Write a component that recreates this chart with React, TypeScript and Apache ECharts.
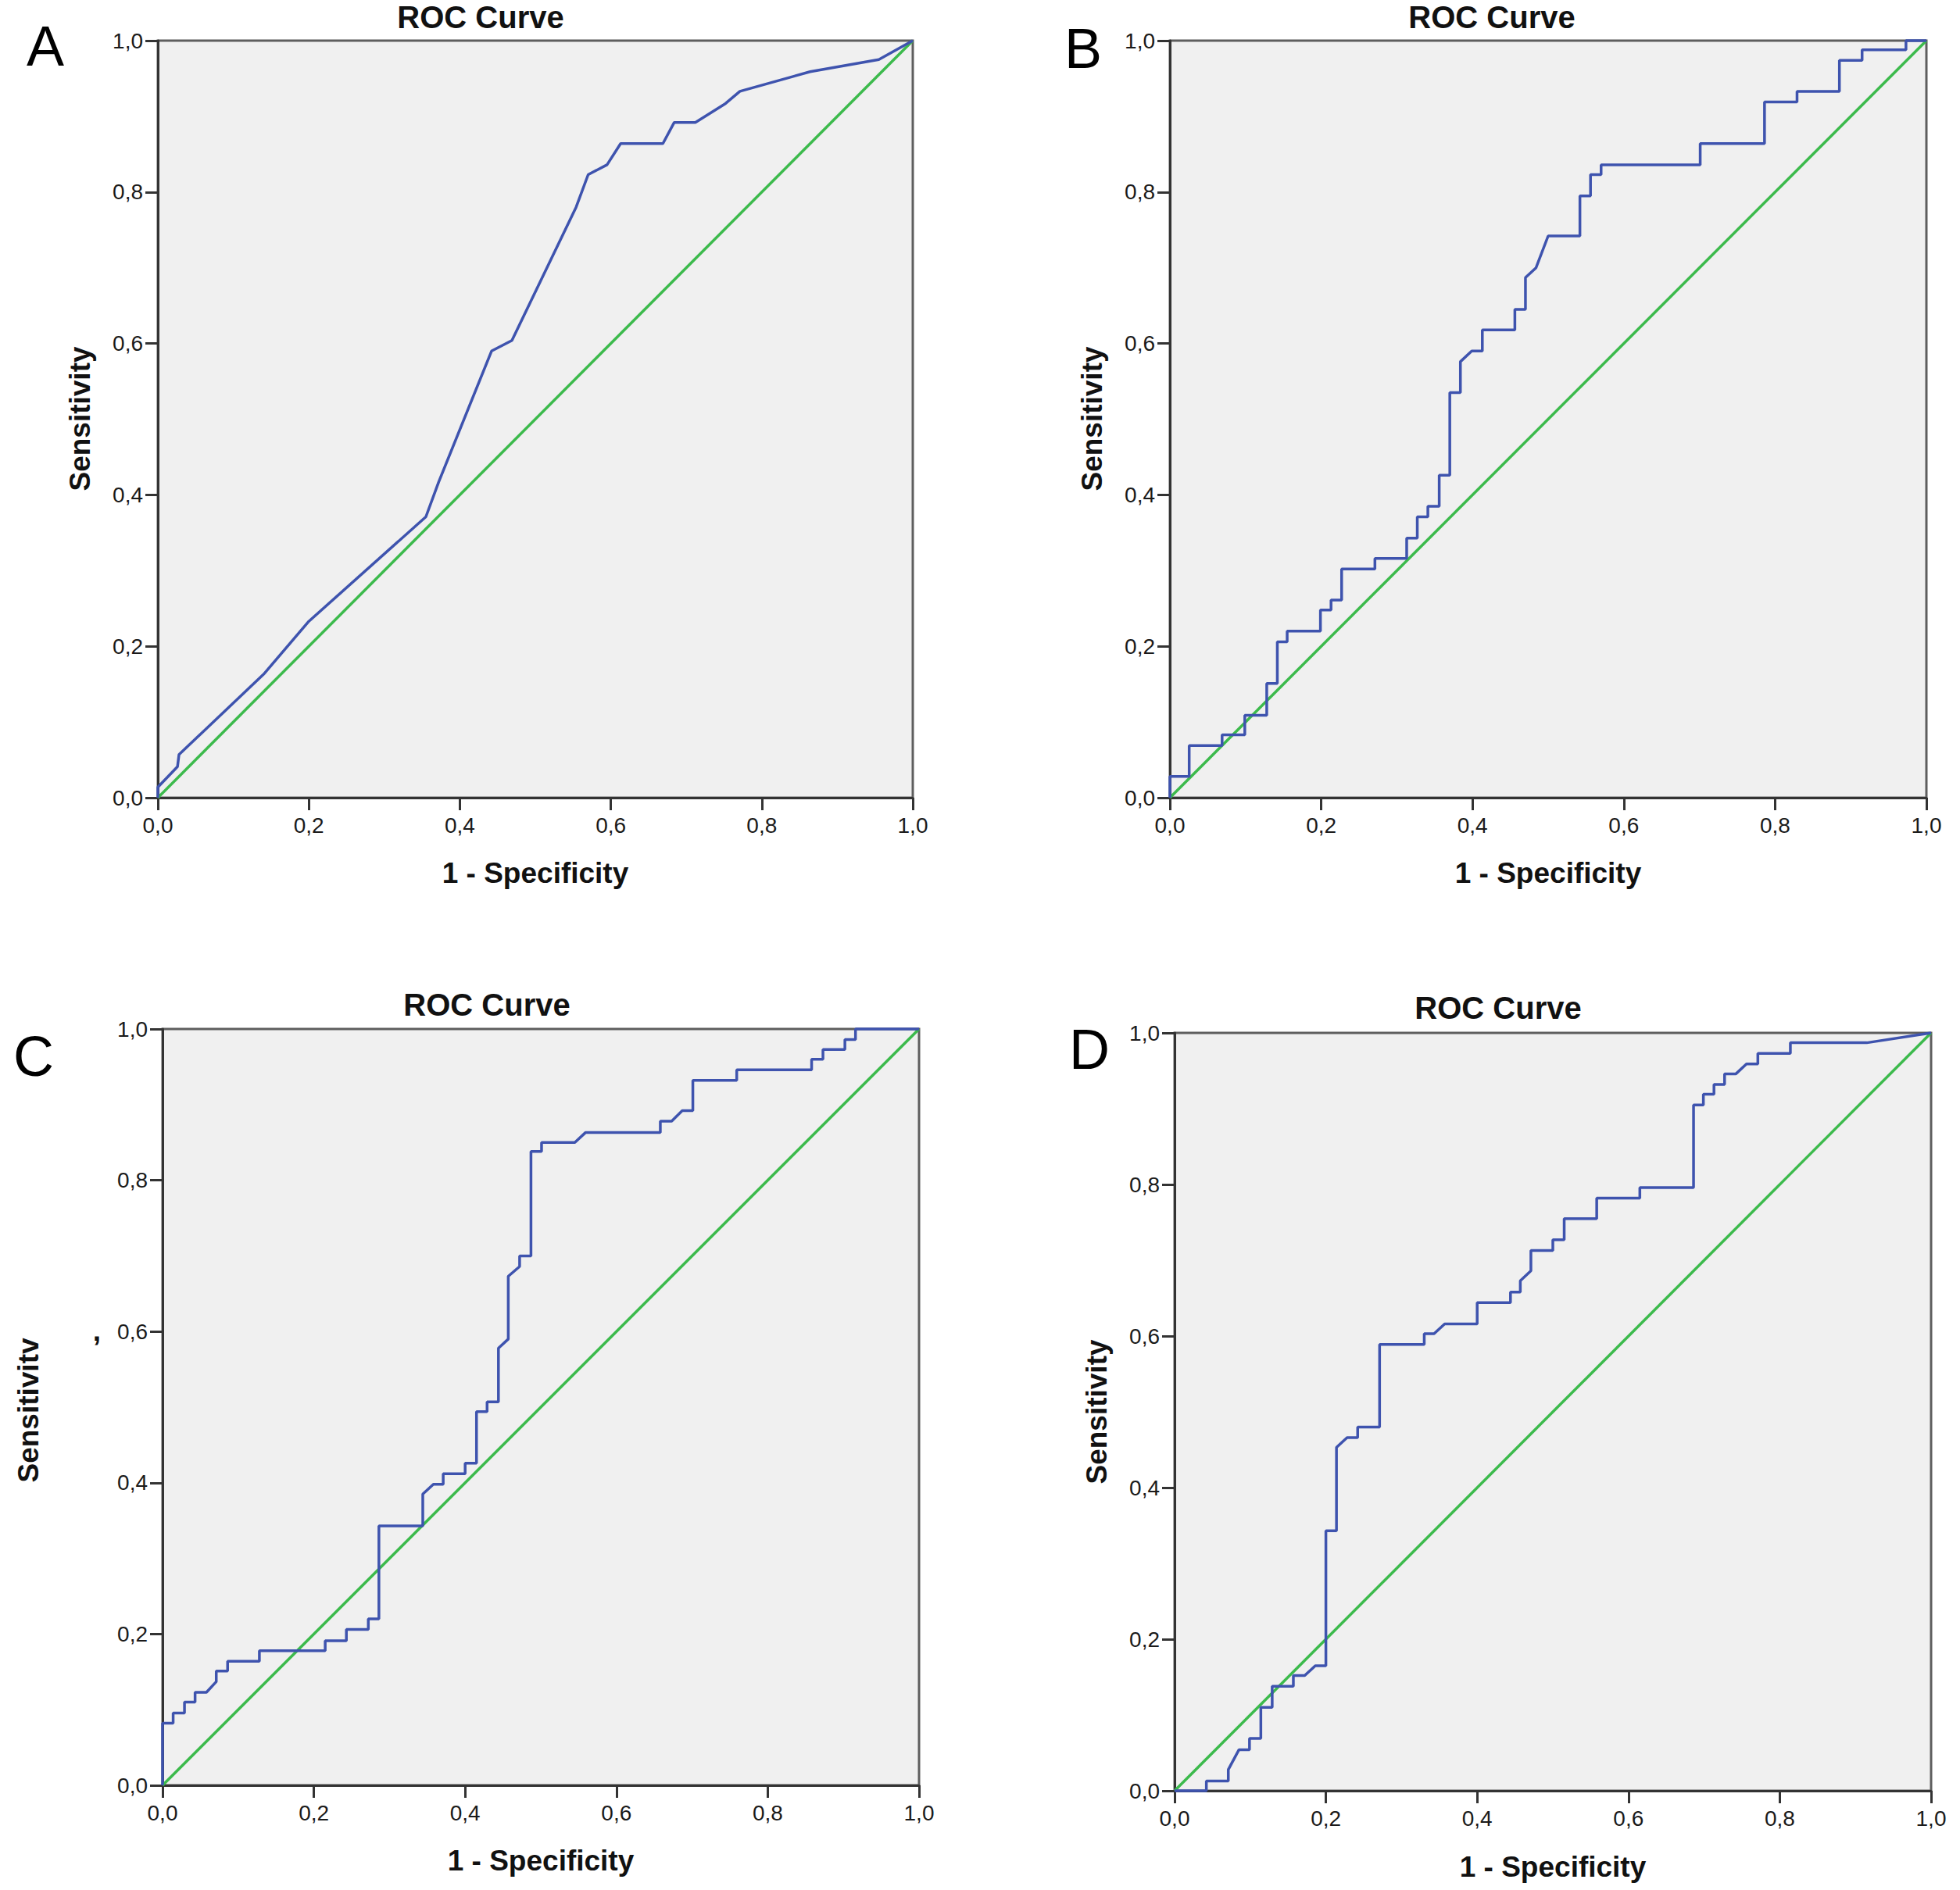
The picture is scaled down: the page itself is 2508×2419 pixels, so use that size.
import React, { useEffect, useRef } from 'react';
import * as echarts from 'echarts';

// ---------- data ----------
const tickValues = [0, 0.2, 0.4, 0.6, 0.8, 1.0];
const tickLabels = ['0,0', '0,2', '0,4', '0,6', '0,8', '1,0'];
const panelLetters = ['A', 'B', 'C', 'D'];
const panelTitles = ['ROC Curve', 'ROC Curve', 'ROC Curve', 'ROC Curve'];
const xAxisNames = ['1 - Specificity', '1 - Specificity', '1 - Specificity', '1 - Specificity'];
const yAxisNames = ['Sensitivity', 'Sensitivity', 'Sensitivitv', 'Sensitivity'];
const referenceLine = [[0, 0], [1, 1]];

const rocA = [
  [0, 0], [0, 0.014], [0.026, 0.041], [0.028, 0.057], [0.14, 0.163], [0.2, 0.233],
  [0.355, 0.371], [0.372, 0.417], [0.442, 0.59], [0.469, 0.604], [0.554, 0.78],
  [0.57, 0.823], [0.595, 0.836], [0.613, 0.864], [0.669, 0.864], [0.684, 0.892],
  [0.712, 0.892], [0.752, 0.917], [0.771, 0.933], [0.864, 0.959], [0.955, 0.975], [1, 1],
];

const rocB = [
  [0, 0], [0, 0.028], [0.0255, 0.028], [0.0255, 0.069], [0.069, 0.069], [0.069, 0.083],
  [0.099, 0.083], [0.099, 0.109], [0.128, 0.109], [0.128, 0.151], [0.142, 0.151],
  [0.142, 0.206], [0.155, 0.206], [0.155, 0.22], [0.199, 0.22], [0.199, 0.248],
  [0.213, 0.248], [0.213, 0.261], [0.227, 0.261], [0.227, 0.302], [0.271, 0.302],
  [0.271, 0.316], [0.313, 0.316], [0.313, 0.343], [0.327, 0.343], [0.327, 0.371],
  [0.341, 0.371], [0.341, 0.385], [0.356, 0.385], [0.356, 0.426], [0.37, 0.426],
  [0.37, 0.535], [0.384, 0.535], [0.384, 0.576], [0.399, 0.59], [0.413, 0.59],
  [0.413, 0.618], [0.456, 0.618], [0.456, 0.645], [0.47, 0.645], [0.47, 0.687],
  [0.484, 0.7], [0.5, 0.742], [0.542, 0.742], [0.542, 0.795], [0.556, 0.795],
  [0.556, 0.823], [0.57, 0.823], [0.57, 0.836], [0.701, 0.836], [0.701, 0.864],
  [0.786, 0.864], [0.786, 0.919], [0.829, 0.919], [0.829, 0.933], [0.885, 0.933],
  [0.885, 0.974], [0.915, 0.974], [0.915, 0.988], [0.973, 0.988], [0.973, 1], [1, 1],
];

const rocC = [
  [0, 0], [0, 0.082], [0.014, 0.082], [0.014, 0.0955], [0.029, 0.0955], [0.029, 0.11],
  [0.043, 0.11], [0.043, 0.123], [0.058, 0.123], [0.071, 0.137], [0.071, 0.151],
  [0.086, 0.151], [0.086, 0.164], [0.128, 0.164], [0.128, 0.178], [0.215, 0.178],
  [0.215, 0.191], [0.243, 0.191], [0.243, 0.206], [0.272, 0.206], [0.272, 0.22],
  [0.286, 0.22], [0.286, 0.343], [0.344, 0.343], [0.344, 0.385], [0.358, 0.398],
  [0.371, 0.398], [0.371, 0.412], [0.4, 0.412], [0.4, 0.426], [0.415, 0.426],
  [0.415, 0.494], [0.429, 0.494], [0.429, 0.507], [0.444, 0.507], [0.444, 0.578],
  [0.457, 0.59], [0.457, 0.673], [0.472, 0.686], [0.472, 0.7], [0.487, 0.7],
  [0.487, 0.838], [0.501, 0.838], [0.501, 0.85], [0.545, 0.85], [0.559, 0.863],
  [0.658, 0.863], [0.658, 0.878], [0.673, 0.878], [0.687, 0.892], [0.701, 0.892],
  [0.701, 0.932], [0.759, 0.932], [0.759, 0.946], [0.858, 0.946], [0.858, 0.96],
  [0.873, 0.96], [0.873, 0.973], [0.902, 0.973], [0.902, 0.986], [0.916, 0.986],
  [0.916, 1], [1, 1],
];

const rocD = [
  [0, 0], [0.042, 0], [0.042, 0.013], [0.071, 0.013], [0.071, 0.028], [0.085, 0.054],
  [0.099, 0.054], [0.099, 0.069], [0.114, 0.069], [0.114, 0.11], [0.129, 0.11],
  [0.129, 0.138], [0.157, 0.138], [0.157, 0.152], [0.172, 0.152], [0.186, 0.165],
  [0.2, 0.165], [0.2, 0.343], [0.214, 0.343], [0.214, 0.453], [0.228, 0.466],
  [0.242, 0.466], [0.242, 0.48], [0.271, 0.48], [0.271, 0.589], [0.33, 0.589],
  [0.33, 0.603], [0.343, 0.603], [0.357, 0.616], [0.4, 0.616], [0.4, 0.644],
  [0.444, 0.644], [0.444, 0.658], [0.457, 0.658], [0.457, 0.673], [0.471, 0.686],
  [0.471, 0.713], [0.5, 0.713], [0.5, 0.727], [0.515, 0.727], [0.515, 0.755],
  [0.558, 0.755], [0.558, 0.782], [0.615, 0.782], [0.615, 0.796], [0.686, 0.796],
  [0.686, 0.905], [0.699, 0.905], [0.699, 0.919], [0.713, 0.919], [0.713, 0.932],
  [0.727, 0.932], [0.727, 0.946], [0.742, 0.946], [0.756, 0.959], [0.771, 0.959],
  [0.771, 0.973], [0.814, 0.973], [0.814, 0.987], [0.915, 0.987], [1, 1],
];

const rocCurves = [rocA, rocB, rocC, rocD];

// ---------- layout (pixels) ----------
const grids = [
  { left: 202, top: 52, width: 966, height: 969 },
  { left: 1497, top: 52, width: 968, height: 969 },
  { left: 208, top: 1317, width: 968, height: 968 },
  { left: 1503, top: 1322, width: 968, height: 970 },
];
const titlePos = [[615, 22], [1909, 22], [623, 1286], [1917, 1290]];
const letterPos = [[58, 59], [1386, 62], [43, 1352], [1394, 1343]];
const yNamePos = [[102, 536], [1397, 536], [36, 1805], [1403, 1807]];
const xNamePos = [[685, 1117], [1981, 1117], [692, 2381], [1987, 2389]];

const FONT = '"Liberation Sans", Arial, Helvetica, sans-serif';
const BLUE = '#3e53ae';
const GREEN = '#3cba4c';

function fmt(v: number) {
  const i = tickValues.findIndex((t) => Math.abs(t - v) < 1e-6);
  return i >= 0 ? tickLabels[i] : '';
}

export default function App() {
  const ref = useRef<HTMLDivElement>(null);

  useEffect(() => {
    if (!ref.current) return;
    const chart = echarts.init(ref.current, undefined, { renderer: 'svg' });

    const axisCommon = {
      type: 'value' as const,
      min: 0,
      max: 1,
      interval: 0.2,
      axisLine: { show: true, onZero: false, lineStyle: { color: '#333333', width: 3 } },
      axisTick: { show: true, inside: false, length: 16, lineStyle: { color: '#333333', width: 3 } },
      splitLine: { show: false },
    };

    const graphic: any[] = [];
    grids.forEach((_, i) => {
      graphic.push({
        type: 'text', x: titlePos[i][0], y: titlePos[i][1],
        style: { text: panelTitles[i], font: `bold 40px ${FONT}`, fill: '#111', align: 'center', verticalAlign: 'middle' },
      });
      graphic.push({
        type: 'text', x: letterPos[i][0], y: letterPos[i][1],
        style: { text: panelLetters[i], font: `72px ${FONT}`, fill: '#000', align: 'center', verticalAlign: 'middle' },
      });
      graphic.push({
        type: 'text', x: xNamePos[i][0], y: xNamePos[i][1],
        style: { text: xAxisNames[i], font: `bold 37px ${FONT}`, fill: '#111', align: 'center', verticalAlign: 'middle' },
      });
      graphic.push({
        type: 'text', x: yNamePos[i][0], y: yNamePos[i][1], rotation: Math.PI / 2,
        style: { text: yAxisNames[i], font: `bold 37px ${FONT}`, fill: '#111', align: 'center', verticalAlign: 'middle' },
      });
    });
    // detached descender mark next to panel C's axis title
    graphic.push({
      type: 'text', x: 124, y: 1703,
      style: { text: ',', font: `bold 37px ${FONT}`, fill: '#111', align: 'center', verticalAlign: 'middle' },
    });

    const series: any[] = [];
    rocCurves.forEach((curve, i) => {
      series.push({
        type: 'line', xAxisIndex: i, yAxisIndex: i, data: referenceLine,
        showSymbol: false, symbol: 'none', clip: false, z: 3,
        lineStyle: { color: GREEN, width: 3.5 },
      });
      series.push({
        type: 'line', xAxisIndex: i, yAxisIndex: i, data: curve,
        showSymbol: false, symbol: 'none', clip: false, z: 4,
        lineStyle: { color: BLUE, width: 3.5 },
      });
    });

    chart.setOption({
      animation: false,
      backgroundColor: '#ffffff',
      grid: grids.map((g) => ({
        ...g, show: true, backgroundColor: '#f0f0f0', borderColor: '#5e5e5e', borderWidth: 3, containLabel: false,
      })),
      xAxis: grids.map((_, i) => ({
        ...axisCommon, gridIndex: i,
        axisLabel: { formatter: fmt, fontSize: 28, color: '#1a1a1a', margin: 21, fontFamily: FONT },
      })),
      yAxis: grids.map((_, i) => ({
        ...axisCommon, gridIndex: i,
        axisLabel: { formatter: fmt, fontSize: 28, color: '#1a1a1a', margin: 19, fontFamily: FONT, padding: [6, 0, 0, 0] },
      })),
      series,
      graphic,
    });

    return () => chart.dispose();
  }, []);

  return (
    <div
      ref={ref}
      style={{ position: 'absolute', left: 0, top: 0, width: 2508, height: 2419, background: '#ffffff' }}
    />
  );
}
